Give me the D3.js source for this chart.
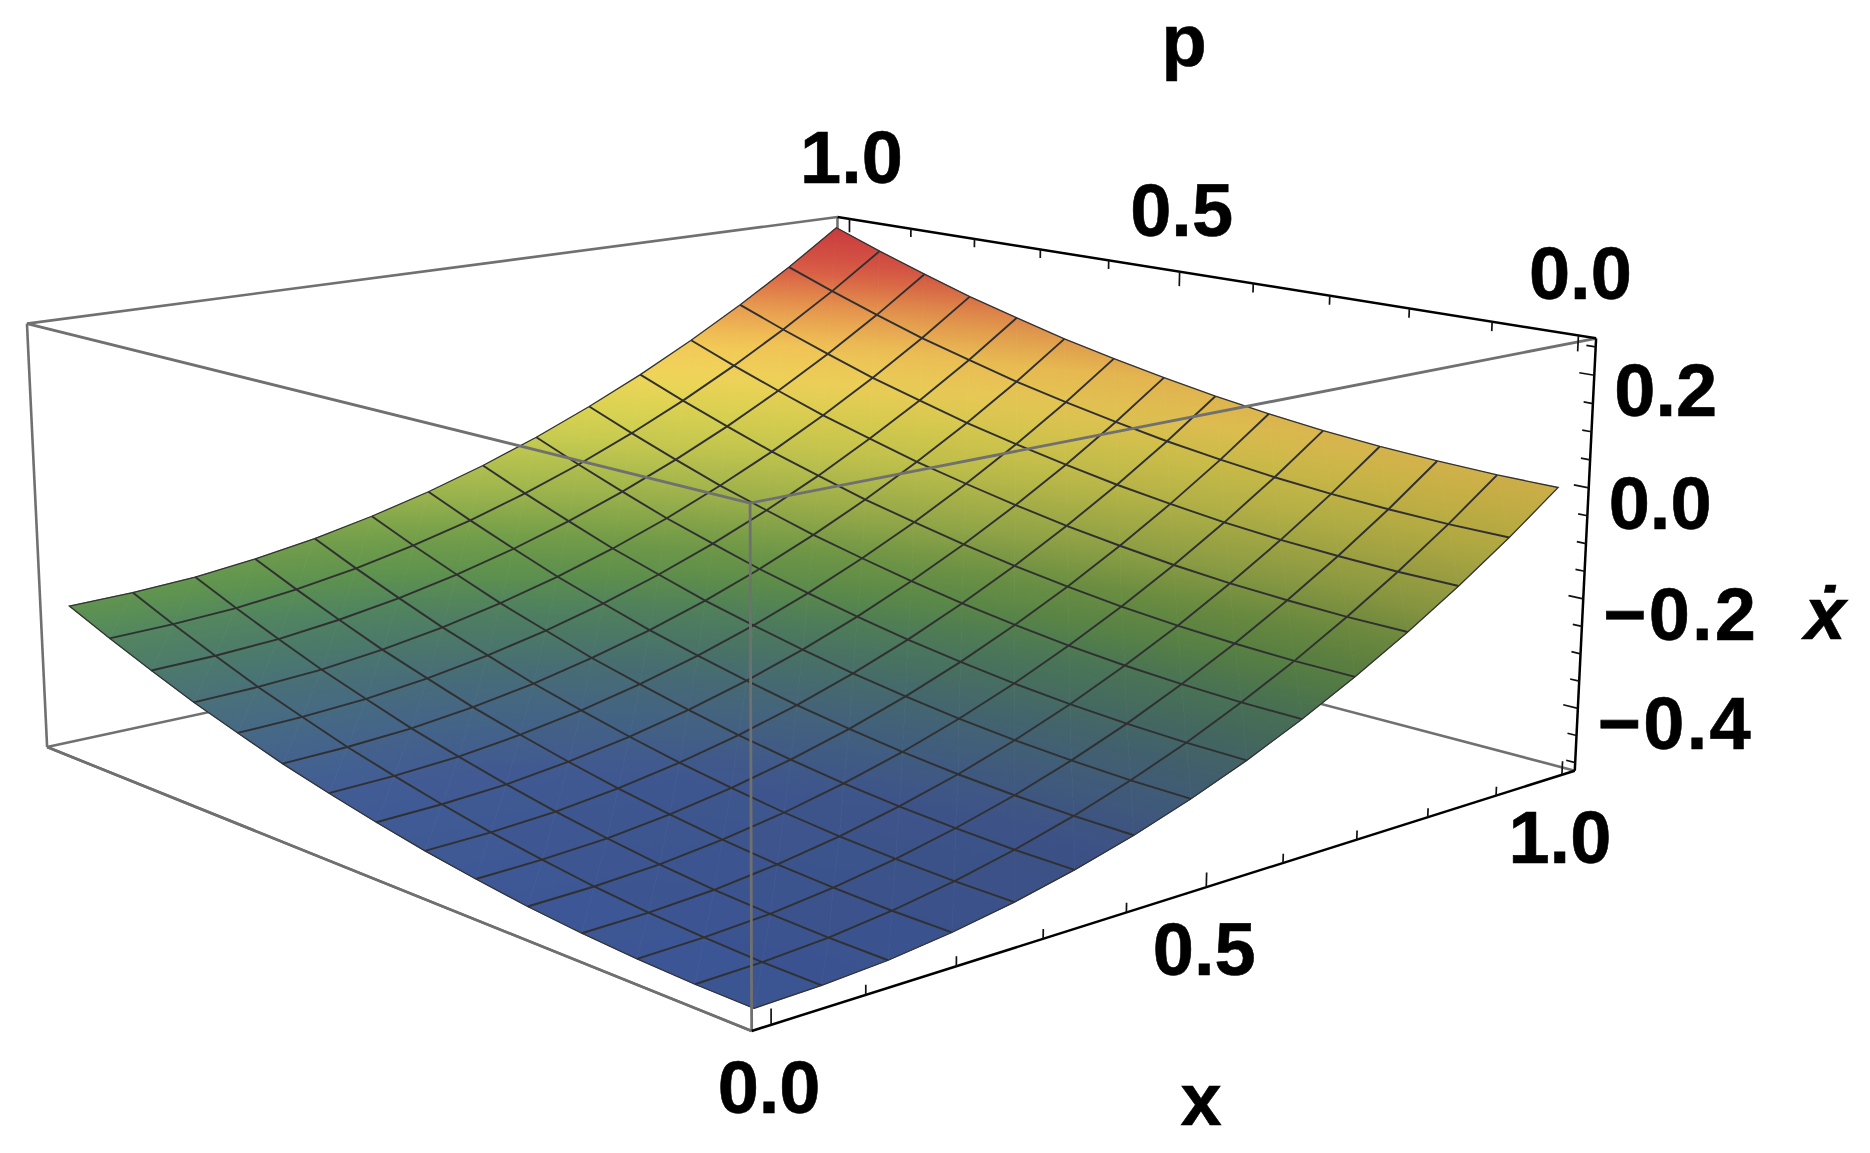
<!DOCTYPE html>
<html><head><meta charset="utf-8"><style>html,body{margin:0;background:#fff}svg{filter:blur(.45px)}text{font-family:"Liberation Sans",Arial,sans-serif;font-weight:700;font-size:74px;fill:#000;stroke:#000;stroke-width:.6px}</style></head>
<body><svg id="c" width="1870" height="1153"></svg>
<script src="https://cdn.jsdelivr.net/npm/d3@7"></script>
<script>
// ---- data ----
const xGrid=[0,0.071,0.143,0.214,0.286,0.357,0.429,0.5,0.571,0.643,0.714,0.786,0.857,0.929,1];
const pGrid=[0,0.071,0.143,0.214,0.286,0.357,0.429,0.5,0.571,0.643,0.714,0.786,0.857,0.929,1];
const zGrid=[
[-.500,-.497,-.490,-.477,-.459,-.436,-.408,-.375,-.337,-.293,-.245,-.191,-.133,-.069,.000],
[-.499,-.496,-.489,-.476,-.458,-.435,-.407,-.374,-.336,-.292,-.244,-.190,-.132,-.068,.001],
[-.495,-.492,-.485,-.472,-.454,-.431,-.403,-.370,-.332,-.288,-.240,-.186,-.128,-.064,.005],
[-.489,-.486,-.479,-.466,-.448,-.425,-.397,-.364,-.326,-.282,-.234,-.180,-.122,-.058,.011],
[-.480,-.477,-.470,-.457,-.439,-.416,-.388,-.355,-.317,-.273,-.225,-.171,-.113,-.049,.020],
[-.468,-.465,-.458,-.445,-.427,-.404,-.376,-.343,-.305,-.261,-.213,-.159,-.101,-.037,.032],
[-.454,-.451,-.444,-.431,-.413,-.390,-.362,-.329,-.291,-.247,-.199,-.145,-.087,-.023,.046],
[-.437,-.434,-.427,-.414,-.396,-.373,-.345,-.312,-.274,-.230,-.182,-.128,-.070,-.006,.063],
[-.418,-.415,-.408,-.395,-.377,-.354,-.326,-.293,-.255,-.211,-.163,-.109,-.051,.013,.082],
[-.397,-.394,-.387,-.374,-.356,-.333,-.305,-.272,-.234,-.190,-.142,-.088,-.030,.034,.103],
[-.372,-.369,-.362,-.349,-.331,-.308,-.280,-.247,-.209,-.165,-.117,-.063,-.005,.059,.128],
[-.346,-.343,-.336,-.323,-.305,-.282,-.254,-.221,-.183,-.139,-.091,-.037,.021,.085,.154],
[-.316,-.313,-.306,-.293,-.275,-.252,-.224,-.191,-.153,-.109,-.061,-.007,.051,.115,.184],
[-.284,-.281,-.274,-.261,-.243,-.220,-.192,-.159,-.121,-.077,-.029,.025,.083,.147,.216],
[-.250,-.247,-.240,-.227,-.209,-.186,-.158,-.125,-.087,-.043,.005,.059,.117,.181,.250]];
const xTickValues=[0,.1,.2,.3,.4,.5,.6,.7,.8,.9,1];
const pTickValues=[0,.1,.2,.3,.4,.5,.6,.7,.8,.9,1];
const zTickValues=[-.5,-.45,-.4,-.35,-.3,-.25,-.2,-.15,-.1,-.05,0,.05,.1,.15,.2,.25];
const xMajor=[0,.5,1], pMajor=[0,.5,1], zMajor=[-.4,-.2,0,.2];
const colourZ=[-.5,-.42,-.37,-.345,-.316,-.284,-.25,-.209,-.158,-.087,-.043,.005,.059,.117,.181,.25];
const colourHex=["#3d5899","#425d98","#476b86","#49717a","#4c7b6c","#528660","#5f944f","#74a04a","#9db54d","#c8cc50","#dcd452","#f0d65a","#f3c858","#e89a50","#d85a45","#c93a3d"];

// ---- scales ----
const xScale=d3.scaleLinear().domain([0,1]).range([.02/1.04,1.02/1.04]);
const pScale=d3.scaleLinear().domain([0,1]).range([.02/1.04,1.02/1.04]);
const zScale=d3.scaleLinear().domain([-.5,.25]).range([.015/.78,.765/.78]);
const colour=d3.scaleLinear().domain(colourZ).range(colourHex).interpolate(d3.interpolateRgb);

// ---- camera: box corners in unit cube -> page ----
const camera=[[0,0,1,751,503,1],[0,0,0,751,1031,1],[1,0,1,1595.7,338,1],[1,0,0,1575,771,1],[0,1,1,26.5,324,1],[0,1,0,47.4,746.7,1],[1,1,1,837.6,217,1],[1,1,0,847,575,.05]];
function solve(A,b){const n=b.length;A=A.map((r,i)=>[...r,b[i]]);for(let i=0;i<n;i++){let m=i;for(let k=i;k<n;k++)if(Math.abs(A[k][i])>Math.abs(A[m][i]))m=k;[A[i],A[m]]=[A[m],A[i]];for(let k=0;k<n;k++)if(k!=i){const f=A[k][i]/A[i][i];for(let j=i;j<=n;j++)A[k][j]-=f*A[i][j];}}return A.map((r,i)=>r[n]/r[i]);}
const rows=[],rhs=[];
camera.forEach(([u,v,w,X,Y,k])=>{rows.push([u,v,w,1,0,0,0,0,-X*u,-X*v,-X*w].map(d=>d*k));rhs.push(X*k);rows.push([0,0,0,0,u,v,w,1,-Y*u,-Y*v,-Y*w].map(d=>d*k));rhs.push(Y*k);});
const M=solve(d3.range(11).map(i=>d3.range(11).map(j=>d3.sum(rows,r=>r[i]*r[j]))),d3.range(11).map(i=>d3.sum(rows,(r,q)=>r[i]*rhs[q])));
function cube(u,v,w){const d=M[8]*u+M[9]*v+M[10]*w+1;return[(M[0]*u+M[1]*v+M[2]*w+M[3])/d,(M[4]*u+M[5]*v+M[6]*w+M[7])/d];}
const project=(x,p,z)=>cube(xScale(x),pScale(p),zScale(z));

const svg=d3.select("#c"),defs=svg.append("defs");
const line=d3.line();
const edge=(g,a,b,stroke,w)=>g.append("path").attr("d",line([cube(...a),cube(...b)])).attr("fill","none").attr("stroke",stroke).attr("stroke-width",w);

// ---- back of the box ----
const GREY="#707070",BLACK="#000";
const back=svg.append("g");
[[[0,1,1],[1,1,1]],[[0,1,0],[1,1,0]],[[1,0,0],[1,1,0]],[[1,1,1],[1,1,0]],[[0,1,1],[0,1,0]],[[0,1,0],[0,0,0]]].forEach(([a,b])=>edge(back,a,b,GREY,2.6));

// ---- surface: triangles with a gradient along z ----
const surf=svg.append("g");
let gid=0;
function tri(a,b,c,shade){
  const [A,B,C]=[a,b,c].map(n=>project(xGrid[n[0]],pGrid[n[1]],zGrid[n[1]][n[0]]));
  const za=zGrid[a[1]][a[0]],zb=zGrid[b[1]][b[0]],zc=zGrid[c[1]][c[0]];
  const det=(B[0]-A[0])*(C[1]-A[1])-(C[0]-A[0])*(B[1]-A[1]);
  const gx=((zb-za)*(C[1]-A[1])-(zc-za)*(B[1]-A[1]))/det, gy=((zc-za)*(B[0]-A[0])-(zb-za)*(C[0]-A[0]))/det;
  const zs=[za,zb,zc],zmin=d3.min(zs),zmax=d3.max(zs),lo=[A,B,C][zs.indexOf(zmin)];
  const n2=gx*gx+gy*gy,t=(zmax-zmin)/n2;
  const id="g"+(gid++);
  const gr=defs.append("linearGradient").attr("id",id).attr("gradientUnits","userSpaceOnUse")
    .attr("x1",lo[0]).attr("y1",lo[1]).attr("x2",lo[0]+gx*t).attr("y2",lo[1]+gy*t);
  d3.range(5).forEach(s=>{const z=zmin+(zmax-zmin)*s/4,cc=d3.rgb(colour(z));
    gr.append("stop").attr("offset",s/4).attr("stop-color",d3.rgb(cc.r*Math.pow(shade,.7),cc.g*shade,cc.b*shade).formatHex());});
  surf.append("path").attr("d",line([A,B,C])+"Z").attr("fill",`url(#${id})`).attr("stroke",`url(#${id})`).attr("stroke-width",.8).attr("stroke-linejoin","round");
}
d3.range(xGrid.length-1).forEach(i=>d3.range(pGrid.length-1).forEach(j=>{
  const x=(xGrid[i]+xGrid[i+1])/2,p=(pGrid[j]+pGrid[j+1])/2,shade=1-.2*Math.sqrt(x)*(1-p);
  tri([i,j],[i+1,j],[i+1,j+1],shade);tri([i,j],[i+1,j+1],[i,j+1],shade);
}));

// ---- mesh ----
const mesh=svg.append("g").attr("fill","none").attr("stroke","#303030").attr("stroke-width",1.9);
d3.range(1,xGrid.length-1).forEach(i=>mesh.append("path").attr("d",line(pGrid.map((p,j)=>project(xGrid[i],p,zGrid[j][i])))));
d3.range(1,pGrid.length-1).forEach(j=>mesh.append("path").attr("d",line(xGrid.map((x,i)=>project(x,pGrid[j],zGrid[j][i])))));
const ring=[...xGrid.map((x,i)=>project(x,0,zGrid[0][i])),...pGrid.map((p,j)=>project(1,p,zGrid[j][14])),...xGrid.map((x,i)=>[x,i]).reverse().map(([x,i])=>project(x,1,zGrid[14][i])),...pGrid.map((p,j)=>[p,j]).reverse().map(([p,j])=>project(0,p,zGrid[j][0]))];
svg.append("path").attr("d",line(ring)+"Z").attr("fill","none").attr("stroke","#333").attr("stroke-width",1.3);

// ---- front of the box ----
const front=svg.append("g");
[[[0,0,1],[0,1,1]],[[0,0,1],[1,0,1]],[[0,0,1],[0,0,0]]].forEach(([a,b])=>edge(front,a,b,GREY,2.8));

// ---- axes and ticks ----
const ax=svg.append("g");
edge(ax,[0,0,0],[1,0,0],BLACK,2.5);edge(ax,[1,0,0],[1,0,1],BLACK,2.5);edge(ax,[1,1,1],[1,0,1],BLACK,2.5);
edge(back,[0,0,0],[0,1,0],GREY,2.6);
const tick=(a,b,w)=>ax.append("path").attr("d",line([a,b])).attr("stroke","#111").attr("stroke-width",w);
const P0=pScale.invert(0),X1=xScale.invert(1),Z0=zScale.invert(0),Z1=zScale.invert(1);
xTickValues.forEach(v=>{const L=xMajor.includes(v)?.025:.016;tick(project(v,P0,Z0),project(v,P0,Z0+L),1.7);});
pTickValues.forEach(v=>{const L=pMajor.includes(v)?.028:.017;tick(project(X1,v,Z1),project(X1,v,Z1-L),1.7);});
zTickValues.forEach(v=>{const L=zMajor.includes(v)?.017:.0105;tick(project(X1,P0,v),project(X1,P0+L,v),1.7);});

// ---- labels ----
const fmt=d3.format(".1f"),T=svg.append("g");
xMajor.forEach(v=>{const q=project(v,P0,Z0);T.append("text").attr("x",q[0]-2).attr("y",q[1]+88).attr("text-anchor","middle").text(fmt(v));});
pMajor.forEach(v=>{const q=project(X1,v,Z1);T.append("text").attr("x",q[0]+2).attr("y",q[1]-36).attr("text-anchor","middle").text(fmt(v));});
zMajor.forEach(v=>{const q=project(X1,P0,v),s=fmt(v);
  const t=T.append("text").attr("x",q[0]+20).attr("y",q[1]+41).text(s);
  if(v<0)t.attr("letter-spacing",".03em");});
T.append("text").attr("x",1184).attr("y",66).attr("text-anchor","middle").text("p");
T.append("text").attr("x",1201).attr("y",1125).attr("text-anchor","middle").text("x");
T.append("text").attr("x",1825).attr("y",639).attr("text-anchor","middle").attr("font-style","italic").text("\u1E8B");
</script></body></html>
